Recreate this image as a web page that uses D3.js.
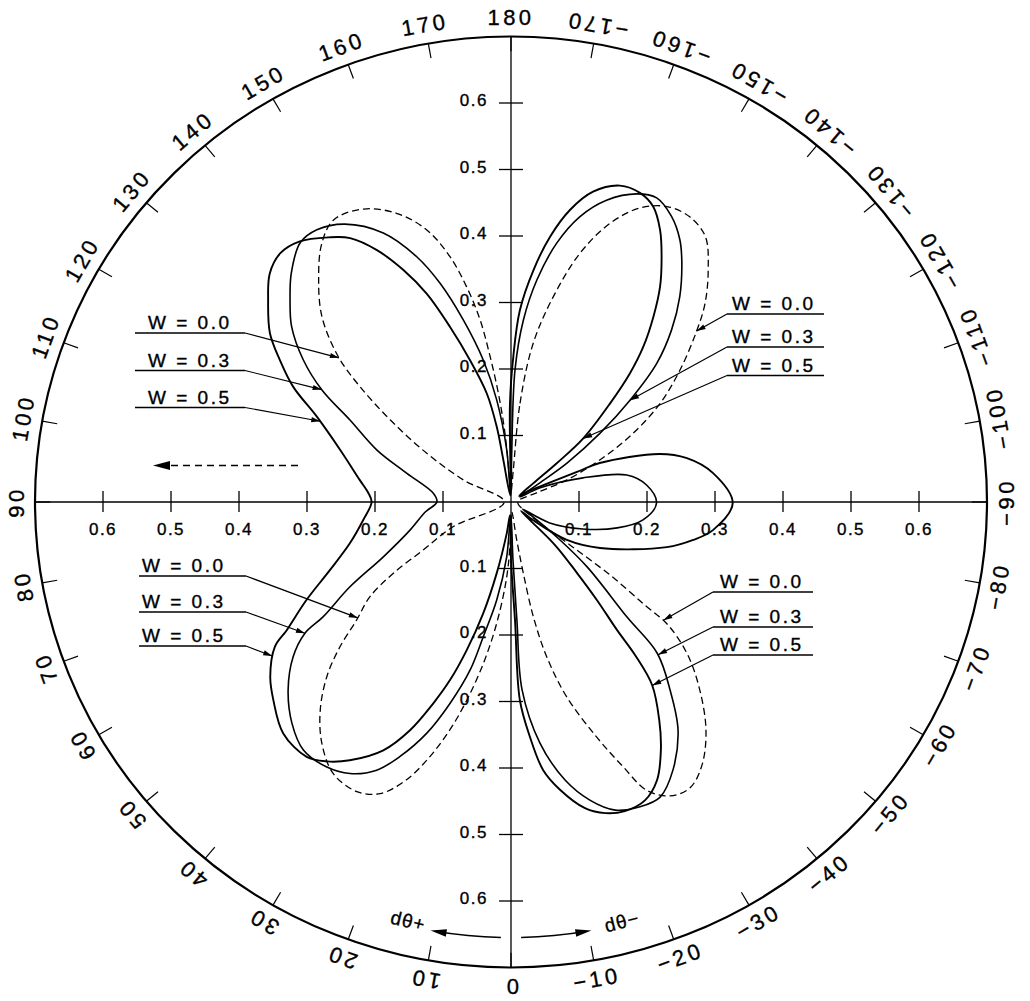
<!DOCTYPE html>
<html>
<head>
<meta charset="utf-8">
<script src="https://cdn.jsdelivr.net/npm/d3@7"></script>
<style>
  html, body { margin: 0; padding: 0; background: #fff; }
  svg { display: block; }
  text { font-family: "Liberation Sans", Arial, sans-serif; fill: #000; stroke: #000; stroke-width: 0.35px; }
</style>
</head>
<body>
<svg id="chart" width="1030" height="1001"></svg>
<script>
// Pattern traces, each point is [angle in degrees, radius]
const patternW00 = [
  [-176.0, 0.048], [-174.9, 0.149], [-172.2, 0.241], [-168.6, 0.315], [-164.8, 0.388],
  [-160.8, 0.444], [-156.8, 0.481], [-152.7, 0.500], [-148.5, 0.503], [-144.4, 0.491],
  [-140.3, 0.454], [-136.3, 0.413], [-133.2, 0.374], [-128.6, 0.318], [-124.1, 0.265],
  [-119.9, 0.207], [-115.8, 0.145], [-112.0, 0.088], [-110.0, 0.040], [-90.0, 0.010],
  [-55.0, 0.034], [-53.3, 0.108], [-53.0, 0.182], [-51.8, 0.251], [-51.3, 0.296],
  [-48.5, 0.347], [-44.5, 0.396], [-39.9, 0.447], [-35.4, 0.485], [-31.5, 0.504],
  [-27.9, 0.500], [-24.7, 0.477], [-22.5, 0.431], [-19.6, 0.375], [-15.6, 0.304],
  [-12.7, 0.238], [-10.8, 0.176], [-9.6, 0.109], [-8.4, 0.058], [-4.0, 0.015],
  [0.5, 0.050], [3.2, 0.113], [6.6, 0.184], [9.5, 0.246], [12.3, 0.305],
  [14.7, 0.354], [17.3, 0.401], [20.2, 0.445], [23.7, 0.479], [27.5, 0.491],
  [32.6, 0.485], [37.5, 0.457], [41.9, 0.420], [45.9, 0.377], [49.1, 0.333],
  [52.0, 0.288], [55.5, 0.252], [58.2, 0.204], [60.8, 0.148], [66.4, 0.093],
  [90.0, 0.010],
  [115.3, 0.077], [120.6, 0.144], [124.8, 0.216], [128.0, 0.282], [130.7, 0.335],
  [135.1, 0.394], [140.1, 0.441], [144.4, 0.478], [148.4, 0.498], [153.8, 0.491],
  [158.9, 0.465], [163.2, 0.427], [166.3, 0.380], [168.6, 0.330], [170.6, 0.277],
  [172.0, 0.221], [173.5, 0.165], [175.1, 0.104], [177.0, 0.028], [180.0, 0.015]
];

const patternW03 = [
  [-179.2, 0.073], [-178.3, 0.199], [-176.2, 0.274], [-173.5, 0.336], [-170.2, 0.395],
  [-166.7, 0.441], [-162.8, 0.475], [-158.2, 0.499], [-154.9, 0.505], [-151.2, 0.490],
  [-147.8, 0.466], [-145.0, 0.438], [-141.2, 0.396], [-137.6, 0.350], [-134.2, 0.299],
  [-131.2, 0.233], [-128.3, 0.167], [-125.4, 0.101], [-124.1, 0.046], [-120.0, 0.015],
  [-116.4, 0.048], [-108.9, 0.112], [-103.4, 0.175], [-97.3, 0.201], [-89.6, 0.214],
  [-82.1, 0.196], [-76.0, 0.161], [-69.0, 0.113], [-61.1, 0.065], [-58.0, 0.020],
  [-55.1, 0.040], [-51.6, 0.092], [-48.9, 0.149], [-44.6, 0.243], [-43.4, 0.313],
  [-39.6, 0.367], [-35.6, 0.422], [-30.6, 0.468], [-26.3, 0.495], [-22.5, 0.496],
  [-18.3, 0.488], [-14.5, 0.463], [-10.8, 0.426], [-6.7, 0.365], [-3.3, 0.283],
  [-2.8, 0.178], [-1.9, 0.087], [1.0, 0.020],
  [4.4, 0.083], [8.1, 0.149], [11.4, 0.207], [13.4, 0.260], [16.5, 0.316],
  [19.6, 0.369], [23.1, 0.416], [26.1, 0.449], [30.1, 0.472], [34.3, 0.482],
  [39.3, 0.482], [44.1, 0.463], [49.2, 0.433], [54.0, 0.396], [56.9, 0.362],
  [58.0, 0.326], [61.7, 0.269], [66.3, 0.205], [74.2, 0.154], [83.2, 0.127],
  [90.0, 0.109],
  [96.5, 0.115], [105.7, 0.159], [111.6, 0.212], [117.5, 0.267], [121.2, 0.325],
  [125.0, 0.373], [129.3, 0.417], [133.1, 0.445], [136.8, 0.472], [141.5, 0.498],
  [145.1, 0.499], [149.7, 0.484], [155.1, 0.446], [159.4, 0.394], [162.4, 0.345],
  [165.6, 0.283], [169.2, 0.217], [172.2, 0.155], [175.4, 0.079], [177.5, 0.010]
];

const patternW05 = [
  [-179.1, 0.219], [-177.4, 0.289], [-174.6, 0.350], [-171.8, 0.403], [-168.8, 0.448],
  [-165.5, 0.482], [-161.4, 0.502], [-157.8, 0.502], [-154.8, 0.491], [-151.8, 0.464],
  [-149.0, 0.430], [-145.9, 0.391], [-143.1, 0.349], [-140.2, 0.304], [-137.9, 0.261],
  [-135.5, 0.208], [-132.0, 0.143], [-130.9, 0.089], [-130.6, 0.043], [-127.0, 0.015],
  [-122.6, 0.028], [-115.0, 0.107], [-114.2, 0.143], [-108.3, 0.230], [-104.3, 0.267],
  [-98.4, 0.300], [-89.7, 0.326], [-81.9, 0.300], [-78.0, 0.274], [-73.5, 0.239],
  [-62.1, 0.148], [-55.2, 0.100], [-50.0, 0.042], [-47.5, 0.020],
  [-45.8, 0.039], [-45.0, 0.092], [-42.3, 0.144], [-40.6, 0.194], [-39.0, 0.248],
  [-38.4, 0.294], [-37.0, 0.345], [-33.6, 0.394], [-30.6, 0.433], [-27.2, 0.470],
  [-23.7, 0.490], [-19.8, 0.494], [-16.5, 0.488], [-13.3, 0.473], [-9.5, 0.439],
  [-6.7, 0.406], [-4.5, 0.354], [-2.5, 0.298], [-1.9, 0.178], [0.0, 0.087], [4.0, 0.020],
  [7.6, 0.048], [11.1, 0.109], [13.7, 0.172], [16.3, 0.232], [18.5, 0.282],
  [20.7, 0.324], [23.4, 0.374], [26.7, 0.418], [31.4, 0.455], [34.8, 0.475],
  [38.1, 0.487], [43.9, 0.483], [49.6, 0.459], [53.4, 0.441], [57.9, 0.410],
  [59.7, 0.382], [63.9, 0.335], [69.0, 0.285], [75.3, 0.245], [82.9, 0.219],
  [90.0, 0.205],
  [93.6, 0.210], [98.5, 0.225], [107.3, 0.263], [114.2, 0.313], [118.4, 0.364],
  [122.1, 0.401], [125.6, 0.436], [130.4, 0.469], [134.1, 0.494], [137.8, 0.505],
  [141.6, 0.500], [146.0, 0.480], [149.2, 0.462], [152.5, 0.427], [155.6, 0.383],
  [158.4, 0.337], [161.2, 0.278], [164.2, 0.222], [167.7, 0.167], [169.5, 0.115],
  [169.9, 0.064], [174.0, 0.010], [179.0, 0.050], [179.4, 0.148]
];

const seriesNames = ["W = 0.0", "W = 0.3", "W = 0.5"];
const angleLabels = [180, 170, 160, 150, 140, 130, 120, 110, 100, 90, 80, 70, 60, 50, 40, 30, 20, 10, 0,
  -10, -20, -30, -40, -50, -60, -70, -80, -90, -100, -110, -120, -130, -140, -150, -160, -170];
const radialTicks = [0.1, 0.2, 0.3, 0.4, 0.5, 0.6];
const angleDirLabels = ["dθ+", "dθ−"];

// ---------------------------------------------------------------
const svg = d3.select("#chart");
const cx = 511, cy = 502, rMax = 0.7;
const rX = d3.scaleLinear().domain([0, rMax]).range([0, 476]);
const rY = d3.scaleLinear().domain([0, rMax]).range([0, 465.5]);
const toRad = a => a * Math.PI / 180;
// angle 0 points down, +90 to the left, 180 up, -90 to the right
const X = (a, r) => cx - rX(r) * Math.sin(toRad(a));
const Y = (a, r) => cy + rY(r) * Math.cos(toRad(a));

function arrowHead(g, x1, y1, x2, y2, len, half) {
  const ang = Math.atan2(y2 - y1, x2 - x1);
  const bx = x2 - len * Math.cos(ang), by = y2 - len * Math.sin(ang);
  const nx = -Math.sin(ang) * half, ny = Math.cos(ang) * half;
  g.append("polygon")
    .attr("points", `${x2},${y2} ${bx + nx},${by + ny} ${bx - nx},${by - ny}`)
    .attr("fill", "#000");
}

// outer boundary
svg.append("ellipse")
  .attr("cx", cx).attr("cy", cy)
  .attr("rx", rX(rMax)).attr("ry", rY(rMax))
  .attr("fill", "none").attr("stroke", "#000").attr("stroke-width", 2.2);

// axes through the centre
const axes = svg.append("g").attr("stroke", "#000").attr("stroke-width", 1.3);
axes.append("line").attr("x1", X(90, rMax)).attr("y1", cy).attr("x2", X(-90, rMax)).attr("y2", cy);
axes.append("line").attr("x1", cx).attr("y1", Y(180, rMax)).attr("x2", cx).attr("y2", Y(0, rMax));

// radial ticks and labels
const fmt = d3.format(".1f");
radialTicks.forEach(t => {
  [90, -90].forEach(a => {
    axes.append("line").attr("x1", X(a, t)).attr("x2", X(a, t)).attr("y1", cy - 11).attr("y2", cy + 10);
    svg.append("text").attr("x", X(a, t)).attr("y", cy + 33)
      .attr("text-anchor", "middle").attr("font-size", 17).attr("letter-spacing", 1.5)
      .text(fmt(t));
  });
  [180, 0].forEach(a => {
    axes.append("line").attr("y1", Y(a, t)).attr("y2", Y(a, t)).attr("x1", cx - 12).attr("x2", cx + 12);
    svg.append("text").attr("x", cx - 23).attr("y", Y(a, t) + 3)
      .attr("text-anchor", "end").attr("font-size", 17).attr("letter-spacing", 1.5)
      .text(fmt(t));
  });
});

// angular ticks and labels around the rim
const rimTicks = svg.append("g").attr("stroke", "#000").attr("stroke-width", 1.2);
const tickInner = rMax * (1 - 15 / 470);
angleLabels.forEach(a => {
  rimTicks.append("line")
    .attr("x1", X(a, rMax)).attr("y1", Y(a, rMax))
    .attr("x2", X(a, tickInner)).attr("y2", Y(a, tickInner));
  const off = 19;
  const lx = cx - (rX(rMax) + off) * Math.sin(toRad(a));
  const ly = cy + (rY(rMax) + off) * Math.cos(toRad(a));
  const rot = a >= 0 ? a + 180 : a;
  svg.append("text")
    .attr("transform", `translate(${lx},${ly}) rotate(${rot})`)
    .attr("text-anchor", "middle").attr("dominant-baseline", "central")
    .attr("font-size", 22).attr("letter-spacing", 3.5)
    .text(a < 0 ? "−" + Math.abs(a) : String(a));
});

// pattern curves
const line = d3.line()
  .x(d => X(d[0], d[1]))
  .y(d => Y(d[0], d[1]))
  .curve(d3.curveCatmullRomClosed.alpha(0.5));

const series = [
  { data: patternW00, width: 1.3, dash: "7,4" },
  { data: patternW03, width: 1.6, dash: null },
  { data: patternW05, width: 1.9, dash: null }
];
const paths = series.map(s =>
  svg.append("path")
    .attr("d", line(s.data))
    .attr("fill", "none").attr("stroke", "#000")
    .attr("stroke-width", s.width)
    .attr("stroke-dasharray", s.dash)
    .attr("stroke-linejoin", "round")
    .node()
);

// nearest point on a drawn curve
function snap(node, tx, ty) {
  const L = node.getTotalLength();
  let best = null, bd = Infinity;
  for (let s = 0; s <= L; s += 1.5) {
    const p = node.getPointAtLength(s);
    const d = (p.x - tx) ** 2 + (p.y - ty) ** 2;
    if (d < bd) { bd = d; best = p; }
  }
  return best;
}

// legend groups with leaders pointing to each curve
const legendGroups = [
  { x: 148, baselines: [329, 366.5, 403.5], from: 135, to: 245, side: "right",
    targets: [[131.0, 0.333], [121.2, 0.325], [112.3, 0.309]] },
  { x: 142, baselines: [572, 608, 642], from: 139, to: 246, side: "right",
    targets: [[53.5, 0.288], [56.9, 0.362], [56.2, 0.418]] },
  { x: 732, baselines: [310, 343, 371.5], from: 727, to: 824, side: "left",
    targets: [[-133.3, 0.375], [-131.2, 0.233], [-132.0, 0.143]] },
  { x: 720, baselines: [588, 623, 651], from: 713, to: 813, side: "left",
    targets: [[-53.7, 0.287], [-43.0, 0.314], [-37.0, 0.345]] }
];
const legendLayer = svg.append("g");
legendGroups.forEach(g => {
  seriesNames.forEach((name, i) => {
    const b = g.baselines[i];
    const uy = b + 4;
    legendLayer.append("text").attr("x", g.x).attr("y", b)
      .attr("font-size", 19).attr("letter-spacing", 2.5).text(name);
    legendLayer.append("line").attr("x1", g.from).attr("x2", g.to).attr("y1", uy).attr("y2", uy)
      .attr("stroke", "#000").attr("stroke-width", 1.5);
    const sx = g.side === "right" ? g.to : g.from;
    const t = g.targets[i];
    const p = snap(paths[i], X(t[0], t[1]), Y(t[0], t[1]));
    legendLayer.append("line").attr("x1", sx).attr("y1", uy).attr("x2", p.x).attr("y2", p.y)
      .attr("stroke", "#000").attr("stroke-width", 1.2);
    arrowHead(legendLayer, sx, uy, p.x, p.y, 9, 2.6);
  });
});

// dashed direction arrow on the left
svg.append("line").attr("x1", 298).attr("y1", 465.5).attr("x2", 168).attr("y2", 465.5)
  .attr("stroke", "#000").attr("stroke-width", 1.4).attr("stroke-dasharray", "7,5");
arrowHead(svg, 300, 465.5, 153, 465.5, 17, 4.5);

// angular direction arrows near the bottom
const rArc = 0.655;
function arcArrow(a0, a1, sweep) {
  svg.append("path")
    .attr("d", `M${X(a0, rArc)},${Y(a0, rArc)} A${rX(rArc)},${rY(rArc)} 0 0 ${sweep} ${X(a1, rArc)},${Y(a1, rArc)}`)
    .attr("fill", "none").attr("stroke", "#000").attr("stroke-width", 1.4);
  const aTip = a1 + Math.sign(a1) * 0.6, aBase = a1 - Math.sign(a1) * 1.8;
  arrowHead(svg, X(aBase, rArc), Y(aBase, rArc), X(aTip, rArc), Y(aTip, rArc), 16, 3.8);
}
arcArrow(1.3, 9.8, 1);
arcArrow(-1.3, -9.8, 0);

[[13.5, 0.648], [-14.5, 0.652]].forEach((pos, i) => {
  svg.append("text")
    .attr("transform", `translate(${X(pos[0], pos[1])},${Y(pos[0], pos[1])}) rotate(${pos[0]})`)
    .attr("text-anchor", "middle").attr("dominant-baseline", "central")
    .attr("font-size", 19).attr("letter-spacing", 1)
    .text(angleDirLabels[i]);
});
</script>
</body>
</html>
